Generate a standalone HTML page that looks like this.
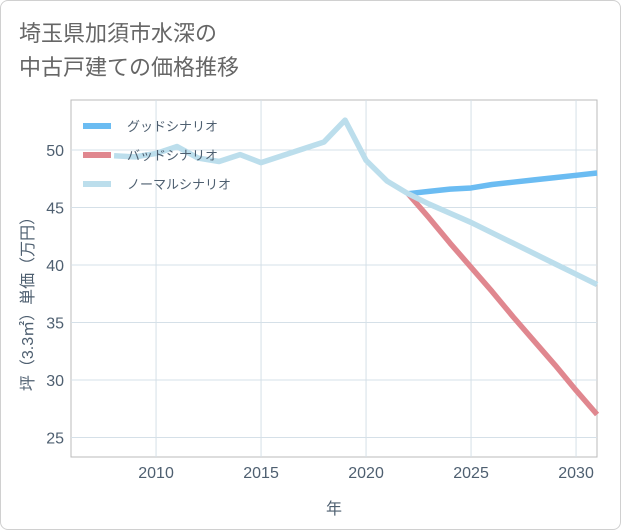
<!DOCTYPE html>
<html><head><meta charset="utf-8"><style>
body{margin:0;background:#fff;font-family:"Liberation Sans","Noto Sans CJK JP",sans-serif;}
#wrap{position:relative;width:619px;height:528px;border:1px solid #d0d0d0;border-radius:8px;overflow:hidden;}
.title{position:absolute;left:18px;top:16px;font-size:22px;line-height:34px;color:#666;}
</style></head><body>
<div id="wrap">
<div class="title">埼玉県加須市水深の<br>中古戸建ての価格推移</div>
<svg id="chart" width="621" height="530" style="position:absolute;left:-1px;top:-1px"></svg>
</div>
<script>
const years=[2008,2009,2010,2011,2012,2013,2014,2015,2016,2017,2018,2019,2020,2021,2022,2023,2024,2025,2026,2027,2028,2029,2030,2031];
const normalVals=[49.5,49.4,49.7,50.3,49.3,49.0,49.6,48.9,49.5,50.1,50.7,52.6,49.1,47.3,46.2,45.3,44.5,43.7,42.8,41.9,41.0,40.1,39.2,38.3];
const goodYears=[2022,2023,2024,2025,2026,2027,2028,2029,2030,2031];
const goodVals=[46.2,46.4,46.6,46.7,47.0,47.2,47.4,47.6,47.8,48.0];
const badYears=[2022,2023,2024,2025,2026,2027,2028,2029,2030,2031];
const badVals=[46.2,44.1,41.9,39.8,37.7,35.5,33.4,31.3,29.1,27.0];
const xTicks=[2010,2015,2020,2025,2030];
const yTicks=[25,30,35,40,45,50];
const legendLabels=["グッドシナリオ","バッドシナリオ","ノーマルシナリオ"];
const legendColors=["#6bbcf2","#e0878f","#bcdeec"];

const L=71,R=597,T=100,B=457;
const TXT='#4e5f70';
const x=v=>L+(v-2005.95)*21;
const y=v=>150-(v-50)*11.5;
const svg=document.getElementById('chart');
const NS='http://www.w3.org/2000/svg';
function mk(tag,attrs,parent){const e=document.createElementNS(NS,tag);for(const k in attrs)e.setAttribute(k,attrs[k]);(parent||svg).appendChild(e);return e;}

const frame=mk('rect',{x:L,y:T,width:R-L,height:B-T,fill:'none',stroke:'#bbb'});


xTicks.forEach(t=>{
  const g=mk('line',{x1:x(t),x2:x(t),y1:T,y2:B,stroke:'#d5e0e8'});
  
  
  const tx=mk('text',{x:x(t),y:478,'text-anchor':'middle','font-size':16,fill:TXT});
  tx.textContent=t;
  
  
});
yTicks.forEach(t=>{
  const g=mk('line',{x1:L,x2:R,y1:y(t),y2:y(t),stroke:'#d5e0e8'});
  
  
  const tx=mk('text',{x:64,y:y(t)+6,'text-anchor':'end','font-size':16,fill:TXT});
  tx.textContent=t;
  
  
});
const xt=mk('text',{x:334,y:514,'text-anchor':'middle','font-size':16,fill:TXT});
xt.textContent='年';


const yt=mk('text',{x:0,y:0,'text-anchor':'middle','font-size':16,fill:TXT,transform:'translate(33,300) rotate(-90)'});
yt.textContent='坪（3.3㎡）単価（万円）';



function line(xs,vs,color,name){
  const d=xs.map((v,i)=>(i?'L':'M')+x(v)+','+y(vs[i])).join(' ');
  const p=mk('path',{d:d,fill:'none',stroke:color,'stroke-width':5.5,'stroke-linejoin':'round'});
  
  
}
line(badYears,badVals,legendColors[1],'bad-scenario-line');
line(goodYears,goodVals,legendColors[0],'good-scenario-line');
line(years,normalVals,legendColors[2],'normal-scenario-line');

legendLabels.forEach((lab,i)=>{
  const ly=126+i*29;
  const s=mk('line',{x1:83,x2:111,y1:ly,y2:ly,stroke:legendColors[i],'stroke-width':6});
  
  
  const t=mk('text',{x:127,y:ly+5,'font-size':13,fill:TXT});
  t.textContent=lab;
  
  
});
</script>
</body></html>
